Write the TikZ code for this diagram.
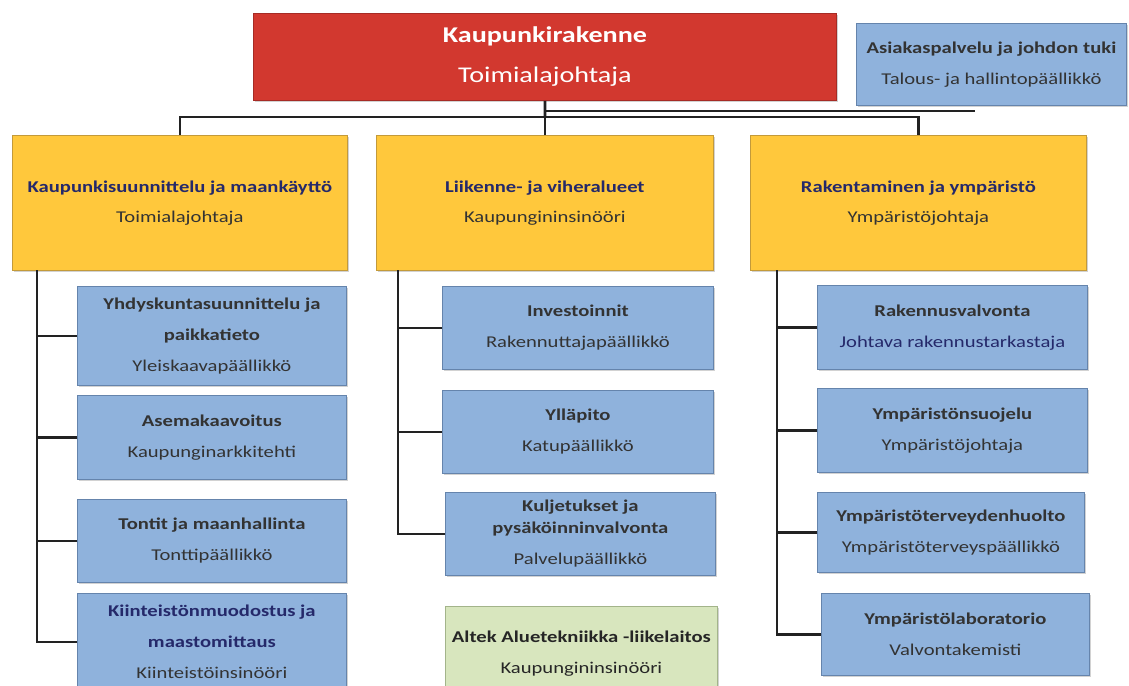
\documentclass[tikz,border=0pt]{standalone}
\usepackage{fontspec}
\setmainfont{Carlito}[FakeStretch=1.25]
\usepackage{xcolor}
\usetikzlibrary{positioning,shadows}
\definecolor{redfill}{HTML}{D2382F}
\definecolor{redline}{HTML}{A62B25}
\definecolor{yellowfill}{HTML}{FFC83C}
\definecolor{yellowline}{HTML}{C39A3A}
\definecolor{bluefill}{HTML}{8FB2DC}
\definecolor{blueline}{HTML}{6584AC}
\definecolor{greenfill}{HTML}{D8E6BE}
\definecolor{greenline}{HTML}{A3B48A}
\definecolor{navytext}{HTML}{25296A}
\definecolor{greytext}{HTML}{333333}
\definecolor{linecol}{HTML}{222222}

\begin{document}
\begin{tikzpicture}[x=1pt, y=-1pt,
    box/.style={rectangle, draw, line width=0.8pt, align=center, inner sep=2pt, anchor=north west,
        drop shadow={shadow xshift=1.5pt, shadow yshift=-1.5pt, opacity=0.35}},
    redbox/.style={box, fill=redfill, draw=redline, text=white, font=\fontsize{22.5}{40}\selectfont},
    yellowbox/.style={box, fill=yellowfill, draw=yellowline, text=greytext, font=\fontsize{16.5}{30}\selectfont},
    bluebox/.style={box, fill=bluefill, draw=blueline, text=greytext, font=\fontsize{16.5}{31}\selectfont},
    greenbox/.style={box, fill=greenfill, draw=greenline, text=black!85, font=\fontsize{16.5}{31}\selectfont},
    conn/.style={line width=2.8pt, draw=linecol}]
    \fill[white] (0,0) rectangle (1129,685);
    \useasboundingbox (0,0) rectangle (1129,685);

    % Top level
    \node[redbox, minimum width=583pt, minimum height=87pt] (toimiala) at (253,13)
        {\textbf{Kaupunkirakenne}\\Toimialajohtaja};
    \node[bluebox, minimum width=270pt, minimum height=82pt] (asiakas) at (856,23)
        {\textbf{Asiakaspalvelu ja johdon tuki}\\Talous- ja hallintopäällikkö};

    % Branches
    \node[yellowbox, minimum width=335pt, minimum height=135pt] (kaup) at (12,135)
        {\textcolor{navytext}{\textbf{Kaupunkisuunnittelu ja maankäyttö}}\\Toimialajohtaja};
    \node[yellowbox, minimum width=337pt, minimum height=135pt] (liik) at (376,135)
        {\textcolor{navytext}{\textbf{Liikenne- ja viheralueet}}\\Kaupungininsinööri};
    \node[yellowbox, minimum width=336pt, minimum height=135pt] (raken) at (750,135)
        {\textcolor{navytext}{\textbf{Rakentaminen ja ympäristö}}\\Ympäristöjohtaja};

    % Kaupunkisuunnittelu units
    \node[bluebox, minimum width=269pt, minimum height=99pt] (yhd) at (77,286)
        {\textbf{Yhdyskuntasuunnittelu ja}\\\textbf{paikkatieto}\\Yleiskaavapäällikkö};
    \node[bluebox, minimum width=269pt, minimum height=84pt] (asema) at (77,395)
        {\textbf{Asemakaavoitus}\\Kaupunginarkkitehti};
    \node[bluebox, minimum width=269pt, minimum height=83pt] (tontit) at (77,499)
        {\textbf{Tontit ja maanhallinta}\\Tonttipäällikkö};
    \node[bluebox, minimum width=269pt, minimum height=97pt] (kiin) at (77,593)
        {\textcolor{navytext}{\textbf{Kiinteistönmuodostus ja}}\\\textcolor{navytext}{\textbf{maastomittaus}}\\Kiinteistöinsinööri};

    % Liikenne units
    \node[bluebox, minimum width=271pt, minimum height=83pt] (inv) at (442,286)
        {\textbf{Investoinnit}\\Rakennuttajapäällikkö};
    \node[bluebox, minimum width=271pt, minimum height=83pt] (yll) at (442,390)
        {\textbf{Ylläpito}\\Katupäällikkö};
    \node[bluebox, minimum width=270pt, minimum height=83pt] (kulj) at (445,492)
        {\textbf{Kuljetukset ja}\\[-9pt]\textbf{pysäköinninvalvonta}\\Palvelupäällikkö};
    \node[greenbox, minimum width=272pt, minimum height=95pt] (altek) at (445,606)
        {\textbf{Altek Aluetekniikka -liikelaitos}\\Kaupungininsinööri};

    % Rakentaminen units
    \node[bluebox, minimum width=270pt, minimum height=84pt] (rv) at (817,285)
        {\textbf{Rakennusvalvonta}\\\textcolor{navytext}{Johtava rakennustarkastaja}};
    \node[bluebox, minimum width=270pt, minimum height=84pt] (ysuo) at (817,388)
        {\textbf{Ympäristönsuojelu}\\Ympäristöjohtaja};
    \node[bluebox, minimum width=267pt, minimum height=80pt] (yth) at (817,492)
        {\textbf{Ympäristöterveydenhuolto}\\Ympäristöterveyspäällikkö};
    \node[bluebox, minimum width=268pt, minimum height=82pt] (ylab) at (821,593)
        {\textbf{Ympäristölaboratorio}\\Valvontakemisti};

    % Connectors
    \coordinate (bus) at (545,117);
    \coordinate (staff) at (975,111);
    \draw[conn] (toimiala.south) -- (bus);
    \draw[conn] (toimiala.south |- staff) -- (staff);
    \draw[conn] (kaup.north) |- (bus) -| (raken.north);
    \draw[conn] (liik.north) -- (liik.north |- bus);

    \coordinate (trunkA) at (37,270);
    \coordinate (trunkB) at (398,270);
    \coordinate (trunkC) at (777,270);
    \draw[conn] (trunkA) |- (kiin.west);
    \foreach \n in {yhd,asema,tontit}
        \draw[conn] (\n.west) -- (\n.west -| trunkA);
    \draw[conn] (trunkB) |- (kulj.west);
    \foreach \n in {inv,yll}
        \draw[conn] (\n.west) -- (\n.west -| trunkB);
    \draw[conn] (trunkC) |- (ylab.west);
    \foreach \n in {rv,ysuo,yth}
        \draw[conn] (\n.west) -- (\n.west -| trunkC);
\end{tikzpicture}
\end{document}
